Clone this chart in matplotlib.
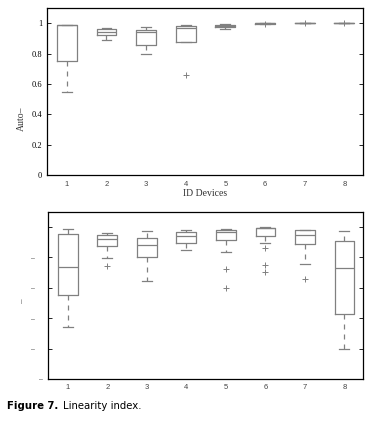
import matplotlib
matplotlib.use('Agg')
import matplotlib.pyplot as plt

# device ids
devices = [1, 2, 3, 4, 5, 6, 7, 8]

# top panel (Auto-) box statistics
top_whislo = [0.547, 0.888, 0.798, 0.879, 0.960, 0.993, 1.000, 1.000]
top_q1     = [0.754, 0.923, 0.855, 0.879, 0.974, 0.996, 1.000, 1.000]
top_med    = [0.987, 0.943, 0.941, 0.971, 0.982, 0.999, 1.000, 1.000]
top_q3     = [0.989, 0.963, 0.954, 0.982, 0.991, 1.000, 1.000, 1.000]
top_whishi = [0.989, 0.971, 0.978, 0.987, 0.993, 1.000, 1.000, 1.000]
top_fliers = [[], [], [], [0.662], [], [0.992], [1.0], [1.0]]

# bottom panel (linearity index)
bot_whislo = [0.343, 0.796, 0.642, 0.846, 0.835, 0.895, 0.758, 0.200]
bot_q1     = [0.549, 0.877, 0.800, 0.895, 0.914, 0.941, 0.888, 0.429]
bot_med    = [0.736, 0.921, 0.884, 0.938, 0.967, 0.991, 0.947, 0.732]
bot_q3     = [0.954, 0.947, 0.925, 0.965, 0.980, 0.993, 0.980, 0.908]
bot_whishi = [0.987, 0.960, 0.971, 0.978, 0.987, 0.998, 0.982, 0.971]
bot_fliers = [[], [0.745], [], [], [0.723, 0.600],
              [0.862, 0.747, 0.701], [0.657], []]

yticks = [0, 0.2, 0.4, 0.6, 0.8, 1.0]
top_yticklabels = ['0', '0.2', '0.4', '0.6', '0.8', '1']
bot_yticklabels = ['–', '–    ', '–    ', '–    ', '–    ', '']

gray = '#808080'


def make_stats(lo, q1, med, q3, hi, fl):
    stats = []
    for i in range(len(devices)):
        stats.append(dict(whislo=lo[i], q1=q1[i], med=med[i], q3=q3[i],
                          whishi=hi[i], fliers=fl[i], label=str(devices[i])))
    return stats


def draw(ax, stats):
    ax.bxp(stats, positions=devices, widths=0.5, capwidths=0.25,
           boxprops=dict(color=gray, lw=0.9),
           medianprops=dict(color=gray, lw=0.9),
           whiskerprops=dict(color=gray, lw=0.9, linestyle=(0, (4, 4))),
           capprops=dict(color=gray, lw=0.9),
           flierprops=dict(marker='+', markeredgecolor=gray, markersize=5,
                           markeredgewidth=0.7, linestyle='none'))
    ax.set_xlim(0.5, 8.47)
    ax.set_ylim(0, 1.1)
    ax.set_yticks(yticks)
    ax.tick_params(axis='y', direction='in', length=3, right=True, width=0.6)
    ax.tick_params(axis='x', length=0, pad=4)
    for lab in ax.get_xticklabels():
        lab.set_fontfamily('Liberation Sans')
        lab.set_fontsize(5.5)
        lab.set_color('#444444')
    for s in ax.spines.values():
        s.set_linewidth(0.9)


fig = plt.figure(figsize=(3.70, 4.21), dpi=100)

ax1 = fig.add_axes([0.127, 0.584, 0.854, 0.397])
draw(ax1, make_stats(top_whislo, top_q1, top_med, top_q3, top_whishi, top_fliers))
ax1.set_yticklabels(top_yticklabels, fontfamily='Liberation Serif', fontsize=6)
ax1.set_xlabel('ID Devices', fontfamily='Liberation Serif', fontsize=7, labelpad=1, color='#333333')
ax1.set_ylabel('Auto–', fontfamily='Liberation Serif', fontsize=7, color='#333333')
ax1.yaxis.set_label_coords(-0.067, 0.34)

ax2 = fig.add_axes([0.130, 0.100, 0.851, 0.397])
draw(ax2, make_stats(bot_whislo, bot_q1, bot_med, bot_q3, bot_whishi, bot_fliers))
ax2.set_yticklabels(bot_yticklabels, fontfamily='Liberation Sans', fontsize=5, color='#555555')
ax2.set_ylabel('–', fontfamily='Liberation Sans', fontsize=6, color='#555555')
ax2.yaxis.set_label_coords(-0.07, 0.47)

fig.text(0.019, 0.0285, 'Figure 7.', fontfamily='DejaVu Sans', fontweight='bold',
         fontsize=7.3, va='baseline')
fig.text(0.170, 0.0285, 'Linearity index.', fontfamily='DejaVu Sans',
         fontsize=7.3, va='baseline')

fig.savefig('out.png', dpi=100)
